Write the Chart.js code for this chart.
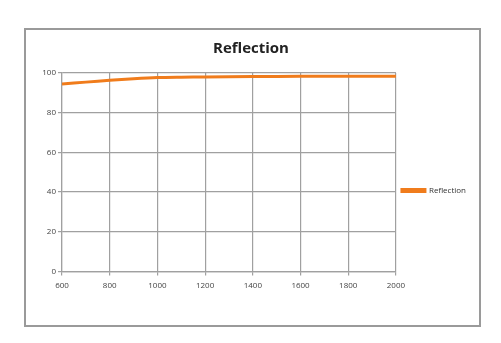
<!DOCTYPE html>
<html>
<head>
<meta charset="utf-8">
<script src="https://cdn.jsdelivr.net/npm/chart.js@4/dist/chart.umd.min.js"></script>
<style>
	body { margin: 0; background: #fff; }
	#caixa {
		position: absolute; left: 24px; top: 28px;
		width: 453px; height: 295px;
		border: 2px solid #9a9a9a;
	}
</style>
</head>
<body>
<div id="caixa"><canvas id="grafico" width="453" height="295"></canvas></div>
<script>
var comprimentos = [600, 700, 800, 900, 1000, 1100, 1200, 1400, 1600, 1800, 2000];
var reflexao = [94.5, 95.4, 96.3, 97.1, 97.7, 97.9, 98.0, 98.2, 98.3, 98.4, 98.4];
var serieNome = 'Reflection';
var tituloTexto = 'Reflection';

var pontos = comprimentos.map(function(x, i){
	return { x: x, y: reflexao[i] };
});

var laranja = '#f07c1c';
var cinza = '#a0a0a0';

// desloca a legenda um pouco para baixo, como no original
var deslocaLegenda = {
	id: 'deslocaLegenda',
	afterLayout: function(chart){
		chart.legend.top += 25;
		chart.legend.bottom += 25;
	}
};

new Chart(document.getElementById('grafico'), {
	type: 'line',
	data: {
		datasets: [{
			label: serieNome,
			data: pontos,
			borderColor: laranja,
			backgroundColor: laranja,
			borderWidth: 3,
			pointRadius: 0,
			tension: 0.3
		}]
	},
	options: {
		responsive: false,
		animation: false,
		layout: { padding: { left: 0, right: 3, top: 4, bottom: 28 } },
		plugins: {
			title: {
				display: true,
				text: tituloTexto,
				color: '#222',
				font: { family: 'Open Sans', size: 15, weight: 'bold' },
				padding: { top: 6, bottom: 15 }
			},
			legend: {
				position: 'right',
				labels: {
					boxWidth: 23,
					boxHeight: 2,
					padding: 6,
					color: '#333',
					font: { family: 'Open Sans', size: 8 }
				}
			},
			tooltip: { enabled: false }
		},
		scales: {
			x: {
				type: 'linear',
				min: 600,
				max: 2000,
				ticks: {
					stepSize: 200, color: '#444', padding: 6,
					font: { family: 'Open Sans', size: 8 },
					callback: function(v){ return String(v); }
				},
				grid: { color: cinza, lineWidth: 1.2, tickLength: 4 },
				border: { color: cinza, width: 1.2 }
			},
			y: {
				min: 0,
				max: 100,
				afterFit: function(escala){ escala.width = 36; },
				ticks: {
					stepSize: 20, color: '#444', padding: 2,
					font: { family: 'Open Sans', size: 8 },
					callback: function(v){ return String(v); }
				},
				grid: { color: cinza, lineWidth: 1.2, tickLength: 4 },
				border: { color: cinza, width: 1.2 }
			}
		}
	},
	plugins: [deslocaLegenda]
});
</script>
</body>
</html>
